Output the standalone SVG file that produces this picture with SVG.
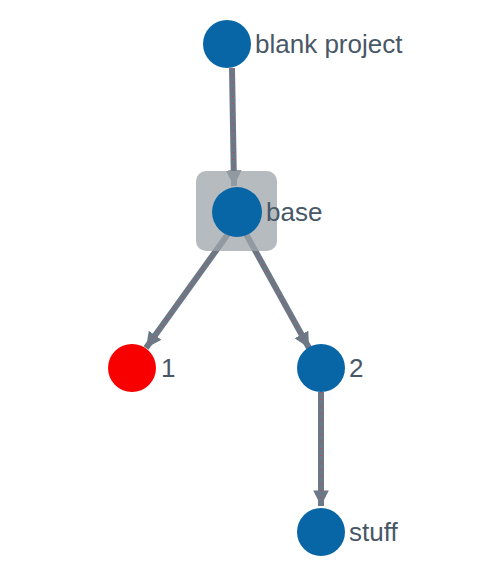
<svg xmlns="http://www.w3.org/2000/svg" width="500" height="577" viewBox="0 0 500 577">
<style>
.lbl{font-family:"Liberation Sans",Arial,sans-serif;font-size:26px;fill:#485766}
.edge{stroke:#6c7886;stroke-width:6;fill:none}
.dots{stroke:#e0303a;stroke-width:1;stroke-dasharray:1 6;fill:none}
.node{fill:#0866a6}
</style>
<defs>
<marker id="arr" viewBox="0 0 10 10" refX="10" refY="5" markerWidth="2.6" markerHeight="2.6" orient="auto" markerUnits="strokeWidth">
<path d="M0,0 L10,5 L0,10 z" fill="#6c7886"/>
</marker>
</defs>
<rect width="500" height="577" fill="#ffffff"/>
<g id="connectors">
<line class="edge" x1="232" y1="68" x2="234" y2="186" marker-end="url(#arr)"/>
<line class="dots" x1="232" y1="68" x2="234" y2="182"/>
<line class="edge" x1="228" y1="234" x2="146" y2="348" marker-end="url(#arr)"/>
<line class="dots" x1="228" y1="234" x2="149" y2="344"/>
<line class="edge" x1="246" y1="234" x2="309" y2="348" marker-end="url(#arr)"/>
<line class="dots" x1="246" y1="234" x2="306" y2="344"/>
<line class="edge" x1="321" y1="392" x2="321" y2="506" marker-end="url(#arr)"/>
<line class="dots" x1="321" y1="392" x2="321" y2="502"/>
</g>
<g id="node-blank-project">
<circle class="node" cx="227" cy="44" r="24"/>
<text class="lbl" x="255" y="53">blank project</text>
</g>
<g id="node-base">
<rect x="196" y="171" width="81" height="80" rx="10" fill="#9ea4aa" fill-opacity="0.75"/>
<circle class="node" cx="237" cy="212" r="25"/>
<text class="lbl" x="266" y="221">base</text>
</g>
<g id="node-1">
<circle cx="132" cy="368" r="24" fill="#f80000"/>
<text class="lbl" x="161" y="377">1</text>
</g>
<g id="node-2">
<circle class="node" cx="321" cy="368" r="24"/>
<text class="lbl" x="349" y="377">2</text>
</g>
<g id="node-stuff">
<circle class="node" cx="321" cy="532" r="24"/>
<text class="lbl" x="349" y="541">stuff</text>
</g>
</svg>
